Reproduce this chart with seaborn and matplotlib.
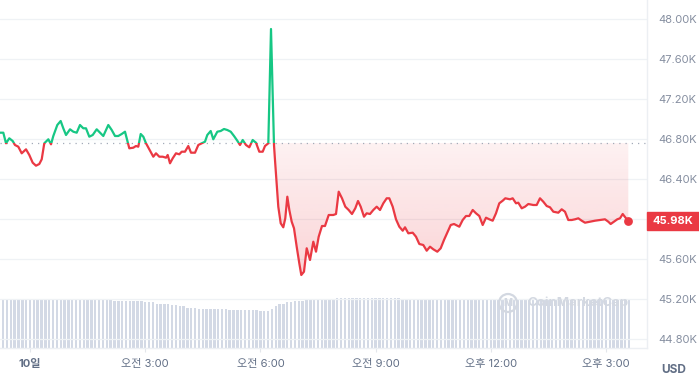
import numpy as np
import matplotlib
matplotlib.use("Agg")
import matplotlib.pyplot as plt
import seaborn as sns
from matplotlib.patches import Rectangle, Circle
from matplotlib.path import Path
from matplotlib.transforms import IdentityTransform, blended_transform_factory
from matplotlib.colors import to_rgb

# ---------------- data ----------------
hours = [-0.781, -0.695, -0.625, -0.539, -0.451, -0.391, -0.305, -0.216, -0.104, -0.018,
         0.070, 0.156, 0.242, 0.305, 0.372, 0.477, 0.547, 0.607, 0.711, 0.799,
         0.867, 0.938, 1.042, 1.128, 1.216, 1.302, 1.388, 1.458, 1.544, 1.633,
         1.737, 1.823, 1.909, 2.039, 2.128, 2.214, 2.299, 2.388, 2.474, 2.586,
         2.690, 2.760, 2.820, 2.883, 2.951, 3.021, 3.107, 3.211, 3.281, 3.367,
         3.456, 3.542, 3.586, 3.646, 3.716, 3.802, 3.888, 3.951, 4.036, 4.122,
         4.193, 4.297, 4.383, 4.471, 4.557, 4.617, 4.706, 4.773, 4.878, 4.966,
         5.052, 5.138, 5.227, 5.313, 5.398, 5.469, 5.539, 5.625, 5.711, 5.799,
         5.885, 5.971, 6.060, 6.120, 6.206, 6.276, 6.354, 6.380, 6.424, 6.466,
         6.529, 6.596, 6.648, 6.701, 6.753, 6.815, 6.875, 6.945, 7.013, 7.065,
         7.135, 7.206, 7.292, 7.378, 7.448, 7.518, 7.604, 7.682, 7.779, 7.898,
         7.969, 8.039, 8.125, 8.211, 8.299, 8.385, 8.471, 8.542, 8.612, 8.698,
         8.768, 8.854, 8.940, 9.029, 9.115, 9.201, 9.289, 9.357, 9.445, 9.531,
         9.617, 9.706, 9.766, 9.852, 9.966, 10.052, 10.138, 10.242, 10.331, 10.417,
         10.503, 10.607, 10.695, 10.781, 10.867, 10.956, 11.042, 11.180, 11.268, 11.354,
         11.440, 11.529, 11.615, 11.701, 11.789, 11.875, 11.961, 12.049, 12.135, 12.221,
         12.310, 12.378, 12.500, 12.570, 12.656, 12.716, 12.805, 12.891, 12.977, 13.107,
         13.195, 13.281, 13.367, 13.456, 13.542, 13.628, 13.758, 13.846, 13.932, 14.018,
         14.107, 14.193, 14.279, 14.367, 14.453, 14.583, 14.714, 14.844, 14.974, 15.060,
         15.122, 15.208, 15.294, 15.365, 15.435, 15.521, 15.581]

prices = [46.863, 46.863, 46.757, 46.807, 46.780, 46.740, 46.723, 46.657, 46.697, 46.640,
          46.563, 46.533, 46.550, 46.597, 46.757, 46.797, 46.747, 46.830, 46.940, 46.980,
          46.907, 46.840, 46.897, 46.873, 46.863, 46.940, 46.907, 46.907, 46.823, 46.840,
          46.897, 46.863, 46.830, 46.940, 46.890, 46.830, 46.830, 46.850, 46.873, 46.707,
          46.713, 46.730, 46.723, 46.850, 46.823, 46.757, 46.697, 46.623, 46.657, 46.623,
          46.623, 46.613, 46.640, 46.557, 46.607, 46.657, 46.647, 46.673, 46.673, 46.730,
          46.663, 46.663, 46.740, 46.757, 46.773, 46.840, 46.880, 46.797, 46.873, 46.880,
          46.900, 46.890, 46.873, 46.830, 46.783, 46.740, 46.790, 46.740, 46.717, 46.790,
          46.763, 46.673, 46.673, 46.730, 46.757, 47.900, 46.740, 46.590, 46.357, 46.123,
          45.957, 45.917, 46.007, 46.223, 46.090, 45.973, 45.907, 45.723, 45.557, 45.440,
          45.473, 45.707, 45.590, 45.773, 45.673, 45.823, 45.930, 45.930, 46.040, 46.040,
          46.050, 46.273, 46.207, 46.123, 46.090, 46.050, 46.107, 46.180, 46.123, 46.023,
          46.057, 46.050, 46.090, 46.123, 46.090, 46.157, 46.207, 46.207, 46.123, 45.997,
          45.923, 45.883, 45.917, 45.857, 45.863, 45.823, 45.750, 45.740, 45.683, 45.723,
          45.697, 45.673, 45.707, 45.790, 45.863, 45.940, 45.950, 45.923, 45.990, 46.030,
          46.030, 46.090, 46.057, 46.030, 45.940, 46.013, 45.997, 45.983, 46.057, 46.157,
          46.183, 46.207, 46.197, 46.207, 46.157, 46.163, 46.107, 46.123, 46.150, 46.140,
          46.140, 46.207, 46.173, 46.130, 46.117, 46.073, 46.063, 46.097, 46.073, 45.990,
          45.990, 45.997, 46.007, 45.983, 45.963, 45.973, 45.983, 45.990, 45.997, 45.973,
          45.950, 45.973, 45.997, 46.007, 46.050, 46.007, 45.980]

baseline_price = 46.76  # reference (open) price, dotted line

vol_hours = np.round(np.arange(-0.8, 15.65, 0.1), 1)
volume = [24.2, 24.2, 24.2, 24.2, 24.2, 24.2, 24.2, 24.2, 24.2, 24.2,
          24.2, 24.2, 24.2, 24.2, 24.2, 24.2, 24.2, 24.2, 24.2, 24.2,
          24.2, 24.2, 24.2, 24.2, 24.2, 24.2, 24.2, 24.2, 24.2, 24.2,
          23.5, 23.5, 23.5, 23.5, 23.5, 23.5, 23.5, 23.5,
          23.0, 23.0, 23.0,
          22.2, 22.2, 22.2, 22.2,
          21.4, 21.4,
          20.9, 20.9,
          20.2, 20.2, 20.2,
          19.7, 19.7,
          19.4, 19.4, 19.4, 19.4, 19.4, 19.4,
          18.9, 18.9, 18.9, 18.9, 18.9, 18.9, 18.9, 18.9,
          18.4, 18.4,
          18.3, 19.6, 21.2, 21.8, 22.2, 22.8, 23.0, 23.3, 23.5, 23.7,
          23.8, 24.0, 24.1, 24.2,
          24.3, 24.3, 24.3,
          24.4,
          25.0, 25.0, 25.0, 25.0, 25.0, 25.0, 25.0, 25.0, 25.0, 25.0,
          25.0, 25.0, 25.0, 25.0, 25.0, 25.0, 25.0,
          24.4, 24.4, 24.4, 24.4, 24.4, 24.4, 24.4, 24.4, 24.4, 24.4,
          24.4, 24.4, 24.4, 24.4, 24.4, 24.4, 24.4, 24.4, 24.4, 24.4,
          24.4, 24.4, 24.4, 24.4, 24.4, 24.4, 24.4, 24.4, 24.4, 24.4,
          24.4, 24.4, 24.4, 24.4, 24.4, 24.4, 24.4, 24.4, 24.4, 24.4,
          24.4, 24.4, 24.4, 24.4, 24.4, 24.4, 24.4, 24.4, 24.4, 24.4,
          24.4, 24.4, 24.4, 24.4, 24.4, 24.4, 24.4, 24.4, 24.4, 24.4]

y_ticks = [44.8, 45.2, 45.6, 46.0, 46.4, 46.8, 47.2, 47.6, 48.0]
y_tick_labels = ["44.80K", "45.20K", "45.60K", "", "46.40K", "46.80K", "47.20K", "47.60K", "48.00K"]
x_ticks = [0, 3, 6, 9, 12, 15]
x_tick_labels = ["10일", "오전 3:00", "오전 6:00", "오전 9:00", "오후 12:00", "오후 3:00"]
currency = "USD"
watermark = "CoinMarketCap"

# ---------------- style ----------------
GREEN = "#16c784"
RED = "#ea3943"
GRID = "#eff2f5"
VOL = "#d3d9e5"

sns.set_theme(style="white")
plt.rcParams["font.family"] = ["Inter", "Noto Sans CJK KR", "DejaVu Sans"]

W, H = 699, 384
fig = plt.figure(figsize=(W / 100, H / 100), dpi=100)
fig.patch.set_facecolor("white")

ax_right_px, ax_bottom_px = 647, 348
rect = [0, 1 - ax_bottom_px / H, ax_right_px / W, ax_bottom_px / H]

xmin = -0.78125
xmax = (647 - 30) / 38.4
ymin, ymax = 48.0 - (348 - 19) / 100, 48.0 + 19 / 100

# volume axes (behind)
axv = fig.add_axes(rect, zorder=0)
sns.barplot(x=vol_hours, y=volume, native_scale=True, width=0.62, color=VOL,
            saturation=1, errorbar=None, linewidth=0, ax=axv)
axv.set_ylim(0, ax_bottom_px / 2)
axv.set_xlim(xmin, xmax)
axv.axis("off")

# price axes (front)
ax = fig.add_axes(rect, zorder=1, sharex=axv)
ax.patch.set_alpha(0)

hours_a = np.array(hours)
prices_a = np.array(prices)
spike_hour = hours_a[np.argmax(prices_a)]


def gradient_fill(where, color, y_lo, y_hi, a_lo, a_hi):
    poly = ax.fill_between(hours_a, prices_a, baseline_price, where=where,
                           interpolate=True, facecolor="none", edgecolor="none")
    paths = poly.get_paths()
    if not paths:
        return
    path = Path.make_compound_path(*paths)
    n = 256
    img = np.zeros((n, 1, 4))
    img[:, :, :3] = to_rgb(color)
    img[:, 0, 3] = np.linspace(a_lo, a_hi, n)
    im = ax.imshow(img, extent=[xmin, xmax, y_lo, y_hi], origin="lower",
                   aspect="auto", interpolation="bilinear", zorder=1)
    im.set_clip_path(path, transform=ax.transData)


gradient_fill((prices_a <= baseline_price) & (hours_a >= spike_hour), RED,
              45.40, baseline_price, 0.22, 0.07)
gradient_fill(prices_a >= baseline_price, GREEN, baseline_price, 47.9, 0.01, 0.06)

# lines: green above baseline, red below
sns.lineplot(x=hours, y=prices, ax=ax, color=GREEN, linewidth=1.6, zorder=3)
lg = ax.lines[-1]
sns.lineplot(x=hours, y=prices, ax=ax, color=RED, linewidth=1.6, zorder=3)
lr = ax.lines[-1]
for ln in (lg, lr):
    ln.set_solid_joinstyle("round")
    ln.set_solid_capstyle("round")
clip_up = Rectangle((xmin - 5, baseline_price), 100, 50, transform=ax.transData)
clip_dn = Rectangle((xmin - 5, baseline_price - 50), 100, 50, transform=ax.transData)
lg.set_clip_path(clip_up)
lr.set_clip_path(clip_dn)

# baseline dotted
ax.axhline(baseline_price, color="#a3abb8", lw=0.9, ls=(0, (1, 4)), zorder=2)

# last point dot
ax.scatter([hours[-1]], [prices[-1]], s=40, color=RED, zorder=4, linewidths=0)

ax.set_xlim(xmin, xmax)
ax.set_ylim(ymin, ymax)

ax.yaxis.tick_right()
ax.set_yticks(y_ticks, y_tick_labels)
ax.tick_params(axis="y", length=0, pad=8, labelsize=8, labelcolor="#858ea0")
ax.set_xticks(x_ticks, x_tick_labels)
ax.tick_params(axis="x", length=3, width=0.8, color="#e3e6eb", pad=5,
               labelsize=8, labelcolor="#616e85", bottom=True)
ax.get_xticklabels()[0].set_fontweight("bold")
ax.set_xlabel("")
ax.set_ylabel("")

ax.grid(axis="y", color=GRID, lw=0.9)
ax.grid(axis="x", visible=False)
for s in ("top", "left"):
    ax.spines[s].set_visible(False)
for s in ("right", "bottom"):
    ax.spines[s].set_visible(True)
    ax.spines[s].set_color("#eceff3")
    ax.spines[s].set_linewidth(1)

# price label box
bt = blended_transform_factory(fig.transFigure, ax.transData)
fig.add_artist(Rectangle((647 / W, prices[-1] - 0.09), 52 / W, 0.18,
                         transform=bt, color=RED, zorder=5))
lbl = fig.text(673 / W, 0, f"{prices[-1]:.2f}K", transform=bt, ha="center", va="center",
               color="white", fontsize=8, fontweight="bold", zorder=6)
lbl.set_y(prices[-1])

# currency label
fig.text(674 / W, 1 - 370 / H, currency, ha="center", va="center",
         color="#616e85", fontsize=8.5, fontweight="bold")

# watermark
fig.add_artist(Circle((508, H - 303), 9, transform=IdentityTransform(), fill=False,
                      ec="#d3d8e1", lw=1.6, zorder=2))
fig.text(508 / W, 1 - 303 / H, "M", ha="center", va="center", color="#d3d8e1",
         fontsize=7, fontweight="bold", zorder=2)
fig.text(527 / W, 1 - 303 / H, watermark, ha="left", va="center", color="#d3d8e1",
         fontsize=9.5, fontweight="bold", zorder=2)

fig.savefig("out.png", dpi=100)
